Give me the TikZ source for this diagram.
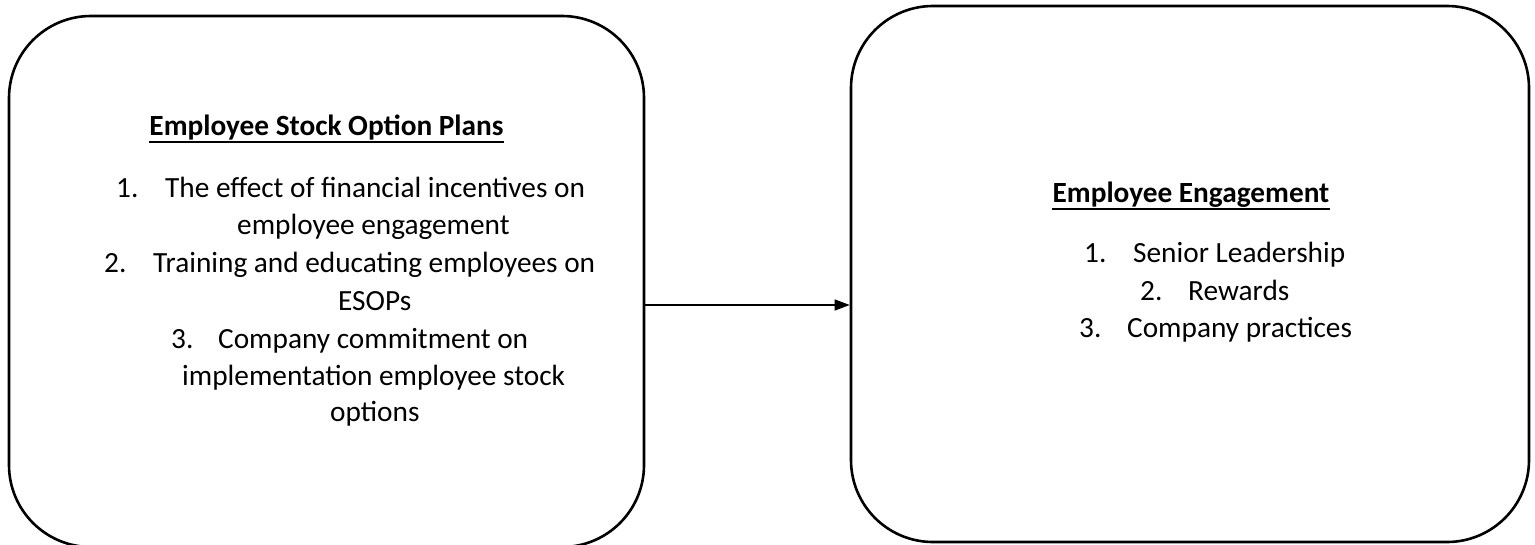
\documentclass[tikz,border=0pt]{standalone}
\usepackage{fontspec}
\setmainfont{Carlito}
\usetikzlibrary{arrows.meta}
\begin{document}
\begin{tikzpicture}[x=1pt,y=-1pt,
  box/.style={draw, line width=2.6pt, rounded corners=82pt, inner sep=0pt},
  txt/.style={anchor=base west, inner sep=0pt, font=\fontsize{29.3}{35}\selectfont},
  ttl/.style={anchor=base, inner sep=0pt, font=\fontsize{29.3}{35}\selectfont\bfseries},
  uline/.style={line width=2.2pt},
  conn/.style={line width=1.3pt, -{Triangle[length=15pt,width=11pt]}}]
\clip (0,0) rectangle (1535,544);
% boxes
\node[box, minimum width=635pt, minimum height=531pt] (lbox) at (326.5,281.5) {};
\node[box, minimum width=678pt, minimum height=536pt] (rbox) at (1190,274) {};
% left texts
\node[ttl] (lt) at (326.5,135) {Employee Stock Option Plans};
\draw[uline] ([yshift=-7pt]lt.base west) -- ([yshift=-7pt]lt.base east);
\node[txt] (l1) at (165,197) {\llap{\makebox[49pt][l]{1.}}The effect of financial incentives on};
\node[txt] (l2) at (237,234) {employee engagement};
\node[txt] (l3) at (153,272) {\llap{\makebox[49pt][l]{2.}}Training and educating employees on};
\node[txt] (l4) at (338,310) {ESOPs};
\node[txt] (l5) at (218,348) {\llap{\makebox[47pt][l]{3.}}Company commitment on};
\node[txt] (l6) at (182,385) {implementation employee stock};
\node[txt] (l7) at (330,421) {options};
% right texts
\node[ttl] (rt) at (1191,202) {Employee Engagement};
\draw[uline] ([yshift=-7pt]rt.base west) -- ([yshift=-7pt]rt.base east);
\node[txt] (r1) at (1133,262) {\llap{\makebox[49pt][l]{1.}}Senior Leadership};
\node[txt] (r2) at (1188,300) {\llap{\makebox[48pt][l]{2.}}Rewards};
\node[txt] (r3) at (1127,337) {\llap{\makebox[48pt][l]{3.}}Company practices};
% connector
\coordinate (ay) at (0,305);
\draw[conn] (lbox.east |- ay) -- (rbox.west |- ay);
\end{tikzpicture}
\end{document}
